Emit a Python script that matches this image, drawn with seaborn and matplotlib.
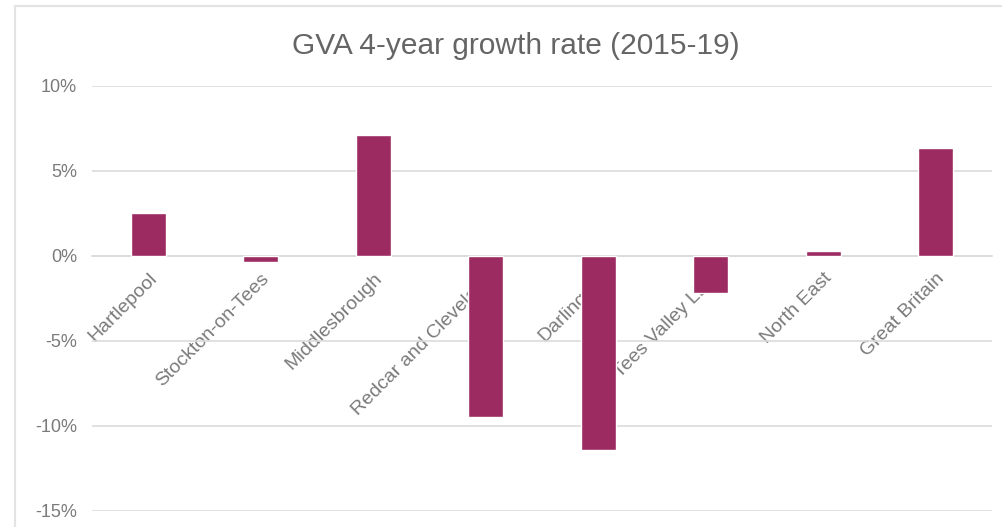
import pandas as pd
import matplotlib
matplotlib.use("Agg")
import matplotlib.pyplot as plt
import seaborn as sns
from matplotlib.ticker import FuncFormatter

areas = ["Hartlepool", "Stockton-on-Tees", "Middlesbrough", "Redcar and Cleveland",
         "Darlington", "Tees Valley LEP", "North East", "Great Britain"]
growth = [2.5, -0.35, 7.1, -9.5, -11.4, -2.2, 0.3, 6.35]

df = pd.DataFrame({"Area": areas, "Growth": growth})

sns.set_style("white")
plt.rcParams['font.family'] = ['Liberation Sans', 'DejaVu Sans']

fig = plt.figure(figsize=(10.02, 5.27), dpi=100)
ax = fig.add_axes([0.092, 0.0304, 0.898, 0.8065])

sns.barplot(data=df, x="Area", y="Growth", color="#9B2B60", saturation=1,
            width=0.31, ax=ax, zorder=3)

ax.set_ylim(-15, 10)
ax.set_yticks([-15, -10, -5, 0, 5, 10])
ax.yaxis.set_major_formatter(FuncFormatter(lambda v, p: f"{v:.0f}%"))
ax.grid(axis="y", color="#dcdcdc", linewidth=1.2, zorder=0)
ax.set_xlim(-0.5, len(areas) - 0.5)

for s in ["top", "right", "left"]:
    ax.spines[s].set_visible(False)
ax.spines["bottom"].set_position(("data", 0))
ax.spines["bottom"].set_color("#dcdcdc")
ax.spines["bottom"].set_linewidth(1.2)

ax.tick_params(axis="x", length=0, pad=10, labelsize=14, labelcolor="#7a7a7a")
ax.tick_params(axis="y", length=0, pad=11, labelsize=13, labelcolor="#7a7a7a")
plt.setp(ax.get_xticklabels(), rotation=45, ha="right", rotation_mode="anchor")
ax.set_xlabel("")
ax.set_ylabel("")

fig.text(0.515, 0.913, "GVA 4-year growth rate (2015-19)", ha="center", va="center",
         fontsize=21.5, color="#656565")

# light frame round the chart
fig.patches.append(plt.Rectangle((15 / 1002, -0.05), 1.2, 1.05 - 6 / 527,
                                 transform=fig.transFigure, fill=False,
                                 edgecolor="#e3e3e3", linewidth=1.5))

fig.savefig("out.png", dpi=100)
